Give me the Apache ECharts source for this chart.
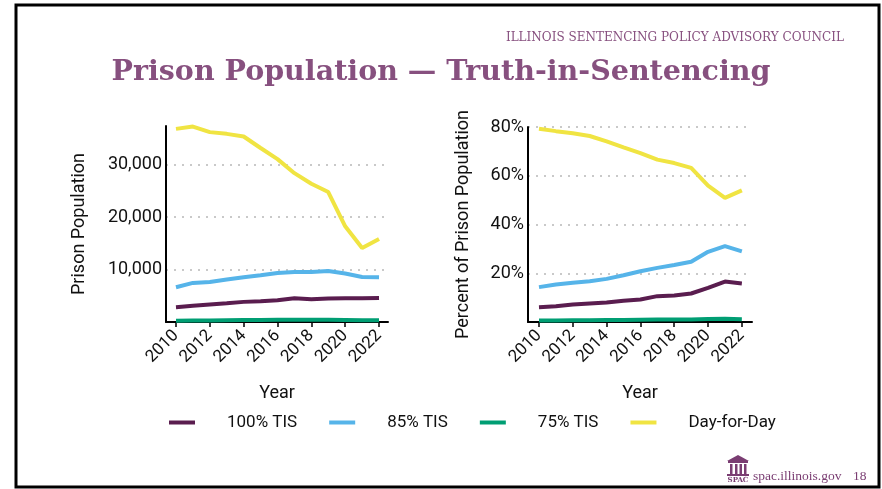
<!DOCTYPE html>
<html>
<head>
<meta charset="utf-8">
<title>Prison Population — Truth-in-Sentencing</title>
<script src="https://cdn.jsdelivr.net/npm/echarts@6/dist/echarts.min.js"></script>
<style>
  html, body { margin: 0; padding: 0; background: #fff; }
  #chart { width: 882px; height: 489px; }
</style>
</head>
<body>
<div id="chart"></div>
<script>
// years on both panels
var years = [2010, 2011, 2012, 2013, 2014, 2015, 2016, 2017, 2018, 2019, 2020, 2021, 2022];
var yearTicks = [2010, 2012, 2014, 2016, 2018, 2020, 2022];
var seriesNames = ['100% TIS', '85% TIS', '75% TIS', 'Day-for-Day'];
var seriesColors = ['#5a1d4f', '#56b4e9', '#009e73', '#f0e442'];

// left panel: prison population (counts)
var pop100 = [2820, 3080, 3330, 3580, 3840, 3970, 4160, 4540, 4350, 4480, 4540, 4540, 4600];
var pop85 = [6630, 7460, 7650, 8100, 8540, 8920, 9370, 9560, 9560, 9750, 9240, 8600, 8540];
var pop75 = [250, 280, 300, 330, 360, 390, 420, 440, 440, 420, 380, 340, 320];
var popDfd = [36850, 37300, 36230, 35900, 35400, 33200, 31080, 28400, 26380, 24800, 18250, 14130, 15850];
var popTicks = [10000, 20000, 30000];

// right panel: percent of prison population
var pct100 = [6.1, 6.5, 7.2, 7.6, 8.0, 8.7, 9.2, 10.6, 10.9, 11.7, 14.0, 16.6, 15.8];
var pct85 = [14.3, 15.4, 16.1, 16.7, 17.7, 19.2, 20.8, 22.2, 23.4, 24.7, 28.8, 31.1, 29.0];
var pct75 = [0.6, 0.65, 0.7, 0.75, 0.8, 0.85, 0.95, 1.0, 1.0, 1.05, 1.2, 1.3, 1.1];
var pctDfd = [79.3, 78.3, 77.4, 76.3, 74.1, 71.6, 69.3, 66.6, 65.2, 63.2, 55.9, 50.9, 54.0];
var pctTicks = [20, 40, 60, 80];

var myChart = echarts.init(document.getElementById('chart'), null, { renderer: 'canvas' });

function pairs(vals) {
    return years.map(function (y, i) { return [y, vals[i]]; });
}

var axisFont = 'Roboto, "Noto Sans", sans-serif';
var serif = '"DejaVu Serif", "Liberation Serif", serif';
var purple = '#87507f';

function xAxisOpt(idx, min, max) {
    return {
        type: 'value',
        gridIndex: idx,
        min: min,
        max: max,
        name: 'Year',
        nameLocation: 'middle',
        nameGap: 62,
        nameTextStyle: { fontFamily: axisFont, fontSize: 18, color: '#111' },
        axisLine: { lineStyle: { color: '#000', width: 2 } },
        axisTick: { show: true, customValues: yearTicks, length: 5, lineStyle: { color: '#000', width: 1.5 } },
        axisLabel: {
            customValues: yearTicks,
            rotate: 45,
            margin: 11,
            fontFamily: axisFont,
            fontSize: 17,
            color: '#111',
            formatter: function (v) { return String(v); }
        },
        splitLine: { show: false }
    };
}

function yAxisOpt(idx, max, labelFn, name, gap) {
    return {
        type: 'value',
        gridIndex: idx,
        min: 0,
        max: max,
        name: name,
        nameLocation: 'middle',
        nameGap: gap,
        nameTextStyle: { fontFamily: axisFont, fontSize: 18, color: '#111' },
        axisLine: { show: true, lineStyle: { color: '#000', width: 2 } },
        axisTick: { show: false },
        axisLabel: {
            margin: 4,
            fontFamily: axisFont,
            fontSize: 18,
            color: '#111',
            customValues: idx === 0 ? popTicks : pctTicks,
            formatter: labelFn
        },
        splitLine: {
            show: true,
            showMinLine: false,
            showMaxLine: idx === 1,
            lineStyle: { color: '#b8b8b8', type: [2, 6], width: 1.5 }
        },
        interval: idx === 0 ? 10000 : 20
    };
}

var leftSets = [pop100, pop85, pop75, popDfd];
var rightSets = [pct100, pct85, pct75, pctDfd];
var series = [];
// draw green first so it sits under the others like in the picture
[2, 0, 1, 3].forEach(function (k) {
    series.push({
        name: seriesNames[k], type: 'line', xAxisIndex: 0, yAxisIndex: 0,
        data: pairs(leftSets[k]), showSymbol: false, smooth: false,
        lineStyle: { width: 4, color: seriesColors[k] }, itemStyle: { color: seriesColors[k] }
    });
    series.push({
        name: seriesNames[k], type: 'line', xAxisIndex: 1, yAxisIndex: 1,
        data: pairs(rightSets[k]), showSymbol: false, smooth: false,
        lineStyle: { width: 4, color: seriesColors[k] }, itemStyle: { color: seriesColors[k] }
    });
});

var chartOpt = {
    backgroundColor: '#fff',
    animation: false,
    title: {
        text: 'Prison Population — Truth-in-Sentencing',
        left: 'center',
        top: 53,
        textStyle: { fontFamily: serif, fontWeight: 'bold', fontSize: 28.5, color: purple }
    },
    legend: {
        data: seriesNames,
        left: 164,
        top: 409,
        icon: 'rect',
        itemWidth: 26,
        itemHeight: 4,
        itemGap: 32,
        textStyle: { fontFamily: axisFont, fontSize: 17, color: '#111', padding: [0, 0, 0, 27] }
    },
    grid: [
        { left: 166, top: 126, width: 222, height: 196 },
        { left: 528, top: 127, width: 224, height: 195 }
    ],
    xAxis: [
        xAxisOpt(0, 2009.41, 2022.53),
        xAxisOpt(1, 2009.35, 2022.6)
    ],
    yAxis: [
        yAxisOpt(0, 37400, function (v) { return v ? v.toLocaleString('en-US') : ''; }, 'Prison Population', 78),
        yAxisOpt(1, 80, function (v) { return v ? v + '%' : ''; }, 'Percent of Prison Population', 56)
    ],
    series: series,
    graphic: [
        // slide frame
        { type: 'rect', shape: { x: 16, y: 5, width: 863, height: 482 },
          style: { fill: null, stroke: '#000', lineWidth: 3 }, silent: true },
        { type: 'text', right: 38, top: 32,
          style: { text: 'ILLINOIS SENTENCING POLICY ADVISORY COUNCIL', font: '12px ' + serif, fill: purple } },
        // footer logo (simple columns building)
        { type: 'group', left: 727, top: 455, children: [
            { type: 'polygon', shape: { points: [[0, 6], [11, 0], [22, 6]] }, style: { fill: '#7a3d72' } },
            { type: 'rect', shape: { x: 1, y: 6, width: 20, height: 2 }, style: { fill: '#7a3d72' } },
            { type: 'rect', shape: { x: 3, y: 9, width: 2.5, height: 10 }, style: { fill: '#7a3d72' } },
            { type: 'rect', shape: { x: 8, y: 9, width: 2.5, height: 10 }, style: { fill: '#7a3d72' } },
            { type: 'rect', shape: { x: 12.5, y: 9, width: 2.5, height: 10 }, style: { fill: '#7a3d72' } },
            { type: 'rect', shape: { x: 17, y: 9, width: 2.5, height: 10 }, style: { fill: '#7a3d72' } },
            { type: 'rect', shape: { x: 0, y: 19, width: 22, height: 2 }, style: { fill: '#7a3d72' } },
            { type: 'text', x: 11, y: 22, style: { text: 'SPAC', font: 'bold 7px ' + serif, fill: '#7a3d72', align: 'center' } }
        ] },
        { type: 'text', left: 753, top: 469,
          style: { text: 'spac.illinois.gov', font: '13.5px "Liberation Serif", serif', fill: '#7a3d72' } },
        { type: 'text', left: 853, top: 469,
          style: { text: '18', font: '13.5px "Liberation Serif", serif', fill: '#7a3d72' } }
    ]
};

myChart.setOption(chartOpt);
</script>
</body>
</html>
